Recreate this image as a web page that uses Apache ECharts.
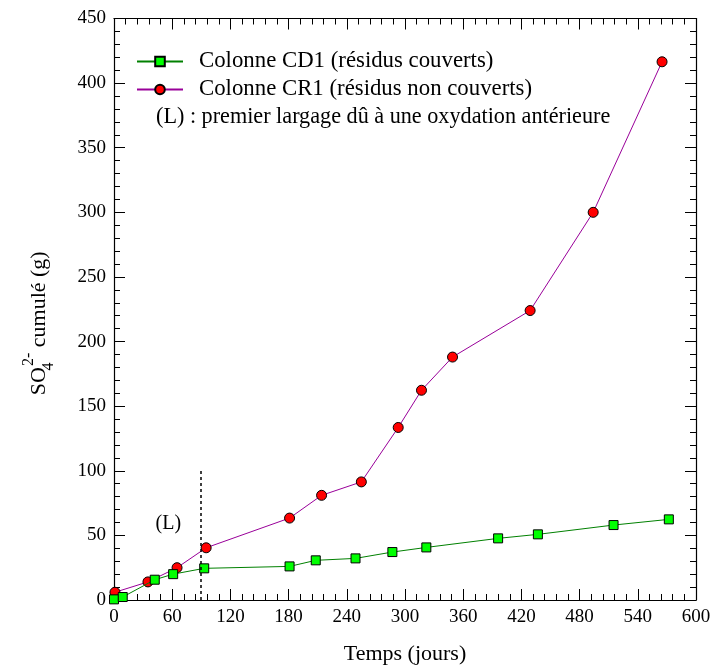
<!DOCTYPE html>
<html>
<head>
<meta charset="utf-8">
<script src="https://cdn.jsdelivr.net/npm/echarts@6/dist/echarts.min.js"></script>
<style>
  html, body { margin: 0; padding: 0; background: #fff; }
  #chart { width: 714px; height: 670px; }
</style>
</head>
<body>
<div id="chart"></div>
<script>
// Cumulative sulfate released by the two leaching columns
var tempsCD1 = [0, 9, 42, 61, 93, 181, 208, 249, 287, 322, 396, 437, 515, 572];
var so4CD1   = [0.5, 2.3, 15.7, 20, 24.5, 26, 30.7, 32.2, 37.1, 40.7, 47.7, 50.8, 58, 62.4];
var tempsCR1 = [1, 35, 65, 95, 181, 214, 255, 293, 317, 349, 429, 494, 565];
var so4CR1   = [6, 14, 25, 40.4, 63.4, 81, 91.4, 133.5, 162.3, 188, 224, 300, 416.5];

// Axis ticks
var xTicks = [0, 60, 120, 180, 240, 300, 360, 420, 480, 540, 600];
var yTicks = [0, 50, 100, 150, 200, 250, 300, 350, 400, 450];

// First leaching event marker: (L) at day 89
var premierLargageJour = 89;
var premierLargageHaut = 100;
var labelL = { x: 56, y: 59, text: '(L)' };

var nomCD1 = 'Colonne CD1 (résidus couverts)';
var nomCR1 = 'Colonne CR1 (résidus non couverts)';
var noteL = '(L) : premier largage dû à une oxydation antérieure';

function pairs(xs, ys) {
  return xs.map(function (x, i) { return [x, ys[i]]; });
}

var serif = 'Liberation Serif, Times New Roman, serif';

function axisBase(ticks, showLabels) {
  return {
    type: 'value',
    min: ticks[0],
    max: ticks[ticks.length - 1],
    interval: ticks[1] - ticks[0],
    axisLine: { show: true, onZero: false, lineStyle: { color: '#000', width: 1.2 } },
    axisTick: { show: true, inside: true, length: 11, lineStyle: { color: '#000', width: 1 } },
    minorTick: { show: true, splitNumber: 5, length: 6, lineStyle: { color: '#000', width: 1 } },
    splitLine: { show: false },
    axisLabel: {
      show: showLabels,
      color: '#000',
      fontFamily: serif,
      fontSize: 19,
      margin: 8,
      showMinLabel: true,
      showMaxLabel: true
    }
  };
}

var xBottom = axisBase(xTicks, true);
xBottom.position = 'bottom';
xBottom.name = 'Temps (jours)';
xBottom.nameLocation = 'middle';
xBottom.nameGap = 43;
xBottom.nameTextStyle = { color: '#000', fontFamily: serif, fontSize: 22 };

var xTop = axisBase(xTicks, false);
xTop.position = 'top';

var yLeft = axisBase(yTicks, true);
yLeft.position = 'left';
yLeft.name = '{m|SO}{sub|4}{sup|2-}{m| cumulé (g)}';
yLeft.nameLocation = 'middle';
yLeft.nameRotate = 90;
yLeft.nameGap = 57;
yLeft.nameTextStyle = {
  color: '#000',
  fontFamily: serif,
  fontSize: 22,
  padding: [0, 28, 0, 0],
  rich: {
    m: { fontFamily: serif, fontSize: 22, color: '#000', lineHeight: 36, verticalAlign: 'middle' },
    sub: { fontFamily: serif, fontSize: 16, color: '#000', verticalAlign: 'bottom', lineHeight: 16, width: 1 },
    sup: { fontFamily: serif, fontSize: 16, color: '#000', verticalAlign: 'top', lineHeight: 16 }
  }
};

var yRight = axisBase(yTicks, false);
yRight.position = 'right';

var chart = echarts.init(document.getElementById('chart'), null, { renderer: 'canvas' });

chart.setOption({
  backgroundColor: '#fff',
  animation: false,
  grid: { left: 114, right: 18, top: 18.5, bottom: 69, containLabel: false },
  xAxis: [xBottom, xTop],
  yAxis: [yLeft, yRight],
  legend: {
    orient: 'vertical',
    left: 136,
    top: 50,
    padding: 0,
    itemWidth: 46,
    itemHeight: 12,
    itemGap: 5,
    selectedMode: false,
    data: [nomCD1, nomCR1],
    textStyle: { color: '#000', fontFamily: serif, fontSize: 22.8, lineHeight: 22, padding: [0, 0, 0, 11] }
  },
  graphic: [{
    type: 'text',
    left: 156,
    top: 106,
    style: { text: noteL, fill: '#000', font: '22.2px ' + serif }
  }],
  series: [
    {
      name: nomCD1,
      type: 'line',
      xAxisIndex: 0,
      yAxisIndex: 0,
      data: pairs(tempsCD1, so4CD1),
      symbol: 'rect',
      symbolSize: 9,
      z: 3,
      lineStyle: { color: '#008000', width: 1 },
      itemStyle: { color: '#00ff00', borderColor: '#000', borderWidth: 1 },
      markLine: {
        silent: true,
        symbol: ['none', 'none'],
        label: { show: false },
        lineStyle: { color: '#000', width: 1.5, type: [3, 3] },
        data: [[
          { coord: [premierLargageJour, 0] },
          { coord: [premierLargageJour, premierLargageHaut] }
        ]]
      }
    },
    {
      name: nomCR1,
      type: 'line',
      xAxisIndex: 0,
      yAxisIndex: 0,
      data: pairs(tempsCR1, so4CR1),
      symbol: 'circle',
      symbolSize: 10,
      z: 2,
      lineStyle: { color: '#990099', width: 1 },
      itemStyle: { color: '#ff0000', borderColor: '#000', borderWidth: 1 },
      markPoint: {
        silent: true,
        symbol: 'circle',
        symbolSize: 0,
        label: {
          show: true,
          position: 'inside',
          formatter: labelL.text,
          color: '#000',
          fontFamily: serif,
          fontSize: 20
        },
        data: [{ coord: [labelL.x, labelL.y] }]
      }
    }
  ]
});
</script>
</body>
</html>
